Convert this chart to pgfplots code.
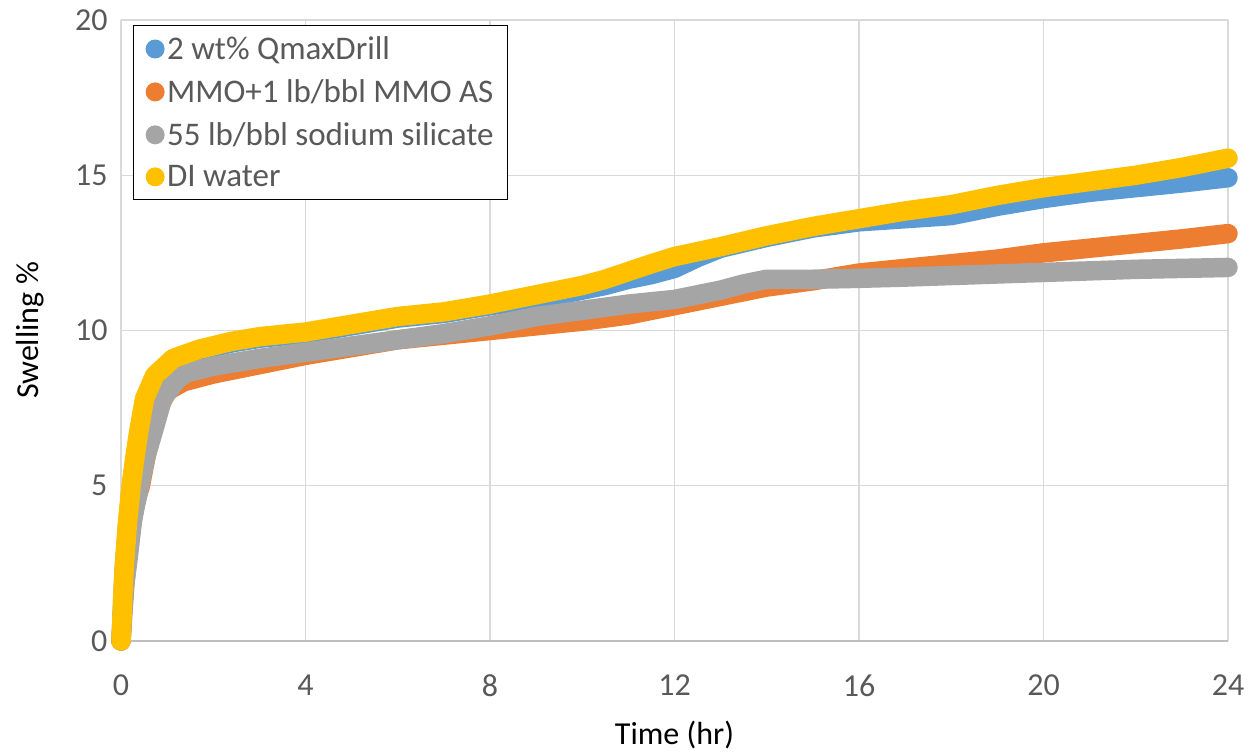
\documentclass[border=0pt]{standalone}
\usepackage{pgfplots}
\pgfplotsset{compat=1.18}
\usepackage{fontspec}
\setmainfont{Carlito}
\definecolor{cblue}{HTML}{5B9BD5}
\definecolor{corange}{HTML}{ED7D31}
\definecolor{cgray}{HTML}{A5A5A5}
\definecolor{cyellow}{HTML}{FFC000}
\definecolor{txt}{HTML}{595959}
\definecolor{gridc}{HTML}{D9D9D9}
\definecolor{axc}{HTML}{BFBFBF}
\begin{document}
\begin{tikzpicture}
\begin{axis}[
  scale only axis,
  width=1107pt, height=621pt,
  xmin=0, xmax=24, ymin=0, ymax=20,
  xtick={0,4,...,24}, ytick={0,5,...,20},
  grid=major,
  grid style={gridc, line width=1.3pt},
  axis line style={draw=none},
  major tick length=0pt,
  clip=false,
  font=\fontsize{32}{38}\selectfont,
  tick label style={txt},
  /pgf/number format/assume math mode=true,
  yticklabel style={xshift=-10pt},
  xticklabel style={yshift=-30pt},
  xlabel={Time (hr)}, ylabel={Swelling \%},
  label style={txt},
  every axis x label/.style={at={(axis description cs:0.5,0)}, anchor=center, yshift=-94pt},
  every axis y label/.style={at={(axis description cs:-0.0822,0.5)}, rotate=90, anchor=center},
  legend style={at={(axis cs:0.26,19.85)}, anchor=north west, draw=black, line width=1.3pt,
    fill=white, font=\fontsize{33}{39}\selectfont, text=txt,
    row sep=14.5pt, inner xsep=12pt, inner ysep=9.5pt, legend cell align=left},
  every axis plot/.append style={line width=19.5pt, line cap=round, line join=round},
]
\draw[axc, line width=1.6pt] (axis cs:0,0) -- (axis cs:24,0);
\addplot[cblue, legend image code/.code={\fill[cblue, draw=none] (0,0) circle (9.5pt);\path[draw=none] (-9.5pt,0) -- (10pt,0);}] coordinates {
(0,0) (0.01,0.3) (0.04,1.4) (0.07,2.3) (0.14,3.7) (0.22,4.9) (0.3,5.8) (0.38,6.6) (0.51,7.7) (0.73,8.5) (1.13,9.05) (1.7,9.35) (2.4,9.6) (3,9.75) (4,9.9) (5,10.15) (6,10.4) (7,10.55) (8,10.8) (9,11.0) (10,11.3) (10.5,11.45) (11,11.65) (11.5,11.8) (12,12.0) (12.5,12.35) (13,12.65) (14,13.0) (15,13.3) (16,13.5) (17,13.6) (18,13.7) (19,14.0) (20,14.25) (21,14.45) (22,14.6) (23,14.75) (24,14.92)
};
\addlegendentry{2 wt\% QmaxDrill}
\addplot[corange, legend image code/.code={\fill[corange, draw=none] (0,0) circle (9.5pt);\path[draw=none] (-9.5pt,0) -- (10pt,0);}] coordinates {
(0,0) (0.03,0.7) (0.08,1.8) (0.17,3.2) (0.3,4.4) (0.42,5.0) (0.55,6.0) (0.72,7.0) (0.85,7.6) (1.0,8.05) (1.36,8.35) (2,8.6) (3,8.9) (4,9.2) (5,9.45) (6,9.7) (7,9.85) (8,10.0) (9,10.15) (10,10.3) (11,10.5) (12,10.8) (13,11.1) (14,11.4) (15,11.6) (16,11.85) (17,12.0) (18,12.15) (19,12.3) (20,12.5) (21,12.65) (22,12.8) (23,12.95) (24,13.12)
};
\addlegendentry{MMO+1 lb/bbl MMO AS}
\addplot[cgray, legend image code/.code={\fill[cgray, draw=none] (0,0) circle (9.5pt);\path[draw=none] (-9.5pt,0) -- (10pt,0);}] coordinates {
(0,0) (0.03,0.8) (0.08,1.8) (0.15,2.6) (0.25,3.9) (0.4,5.0) (0.55,6.0) (0.69,6.7) (0.9,7.8) (1.2,8.4) (1.4,8.63) (2,8.85) (3,9.1) (4,9.3) (5,9.5) (6,9.7) (7,9.9) (8,10.15) (9,10.45) (10,10.65) (11,10.85) (12,11.0) (13,11.3) (13.5,11.5) (14,11.65) (15,11.65) (16,11.68) (17,11.72) (18,11.77) (19,11.82) (20,11.87) (21,11.92) (22,11.97) (23,12.0) (24,12.03)
};
\addlegendentry{55 lb/bbl sodium silicate}
\addplot[cyellow, legend image code/.code={\fill[cyellow, draw=none] (0,0) circle (9.5pt);\path[draw=none] (-9.5pt,0) -- (10pt,0);}] coordinates {
(0,0) (0.01,0.3) (0.04,1.5) (0.07,2.4) (0.14,3.8) (0.22,5.0) (0.3,5.9) (0.38,6.7) (0.51,7.8) (0.73,8.55) (1.13,9.1) (1.7,9.4) (2.4,9.65) (3,9.8) (4,9.95) (5,10.2) (6,10.45) (7,10.6) (8,10.85) (9,11.15) (10,11.45) (10.5,11.65) (11,11.9) (11.5,12.15) (12,12.38) (13,12.7) (14,13.05) (15,13.35) (16,13.6) (17,13.85) (18,14.05) (19,14.35) (20,14.6) (21,14.8) (22,15.0) (23,15.25) (24,15.55)
};
\addlegendentry{DI water}
\end{axis}
\pgfresetboundingbox
\path (-121pt,-113pt) rectangle (1134pt,641pt);
\end{tikzpicture}
\end{document}
